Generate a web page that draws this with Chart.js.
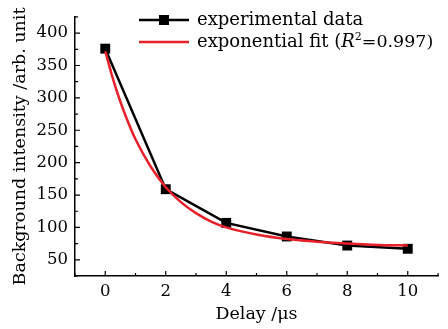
<!DOCTYPE html>
<html>
<head>
<meta charset="utf-8">
<script src="https://cdn.jsdelivr.net/npm/chart.js@4"></script>
<style>
  body { margin: 0; background: #fff; }
</style>
</head>
<body>
<canvas id="decay" width="448" height="329"></canvas>
<script>
// measured points
const delays = [0, 2, 4, 6, 8, 10];
const intensity = [376, 159, 107, 86, 72, 67];

// fit curve
const fitDelays = [0, 0.25, 0.5, 0.75, 1, 1.5, 2, 2.5, 3, 3.5, 4, 5, 6, 7, 8, 9, 10];
const fitIntensity = [372, 330, 294, 263, 236, 194, 162, 139, 122, 109, 100, 89, 82, 78, 75, 73, 72];

const xMajor = [0, 2, 4, 6, 8, 10];
const xMinor = [-1, 1, 3, 5, 7, 9, 11];
const yMajor = [50, 100, 150, 200, 250, 300, 350, 400];
const yMinor = [25, 75, 125, 175, 225, 275, 325, 375, 425];

const seriesNames = ["experimental data", "exponential fit"];
const r2 = "0.997";

const serif = "\"DejaVu Serif\", serif";
const black = "#000000";
const red = "#e8202a";

// ticks point into the plot, as in Origin
const inwardTicks = {
  id: "inwardTicks",
  afterDraw(chart) {
    const ctx = chart.ctx;
    const xs = chart.scales.x, ys = chart.scales.y;
    const area = chart.chartArea;
    ctx.save();
    ctx.strokeStyle = black;
    ctx.lineWidth = 1.2;
    ctx.beginPath();
    xMajor.forEach(v => { const p = xs.getPixelForValue(v); ctx.moveTo(p, area.bottom); ctx.lineTo(p, area.bottom - 5); });
    xMinor.forEach(v => { const p = xs.getPixelForValue(v); ctx.moveTo(p, area.bottom); ctx.lineTo(p, area.bottom - 3); });
    yMajor.forEach(v => { const p = ys.getPixelForValue(v); ctx.moveTo(area.left, p); ctx.lineTo(area.left + 5, p); });
    yMinor.forEach(v => { const p = ys.getPixelForValue(v); ctx.moveTo(area.left, p); ctx.lineTo(area.left + 3, p); });
    ctx.stroke();
    ctx.restore();
  }
};

const insideLegend = {
  id: "insideLegend",
  afterDraw(chart) {
    const ctx = chart.ctx;
    const x0 = 139, x1 = 189, tx = 197;
    const rows = [20, 42];
    ctx.save();
    ctx.textBaseline = "middle";
    ctx.fillStyle = black;

    // row 1: line + square
    ctx.strokeStyle = black;
    ctx.lineWidth = 2.5;
    ctx.beginPath();
    ctx.moveTo(x0, rows[0]); ctx.lineTo(x1, rows[0]);
    ctx.stroke();
    ctx.fillRect((x0 + x1) / 2 - 5, rows[0] - 5, 10, 10);
    ctx.font = "18px " + serif;
    ctx.fillText(seriesNames[0], tx, rows[0]);

    // row 2: red line
    ctx.strokeStyle = red;
    ctx.beginPath();
    ctx.moveTo(x0, rows[1]); ctx.lineTo(x1, rows[1]);
    ctx.stroke();
    let x = tx;
    const part = (txt, font, dy) => {
      ctx.font = font;
      ctx.fillText(txt, x, rows[1] + dy);
      x += ctx.measureText(txt).width;
    };
    part(seriesNames[1] + " (", "18px " + serif, 0);
    part("R", "italic 18px " + serif, 0);
    part("2", "11px " + serif, -5);
    part("=" + r2 + ")", "17.5px " + serif, 0);
    ctx.restore();
  }
};

new Chart(document.getElementById("decay"), {
  type: "line",
  data: {
    datasets: [
      {
        label: seriesNames[1],
        data: fitDelays.map((d, i) => ({ x: d, y: fitIntensity[i] })),
        borderColor: red,
        borderWidth: 2.5,
        pointRadius: 0,
        cubicInterpolationMode: "monotone",
        order: 0
      },
      {
        label: seriesNames[0],
        data: delays.map((d, i) => ({ x: d, y: intensity[i] })),
        borderColor: black,
        backgroundColor: black,
        borderWidth: 2.5,
        pointStyle: "rect",
        pointRadius: 7,
        pointBorderWidth: 0,
        order: 1
      }
    ]
  },
  options: {
    responsive: false,
    animation: false,
    layout: { padding: { top: 7, right: 10, left: 0, bottom: 0 } },
    plugins: {
      legend: { display: false },
      tooltip: { enabled: false }
    },
    scales: {
      x: {
        type: "linear",
        min: -1,
        max: 11,
        afterBuildTicks: s => { s.ticks = xMajor.map(v => ({ value: v })); },
        afterFit: s => { s.height = 53; },
        grid: { display: true, drawOnChartArea: false, drawTicks: false },
        border: { display: true, color: black, width: 1.5 },
        ticks: { color: black, padding: 6, font: { family: serif, size: 16.5 } },
        title: {
          display: true,
          text: "Delay /μs",
          color: black,
          font: { family: serif, size: 17.5 },
          padding: { top: 0, bottom: 4 }
        }
      },
      y: {
        min: 25,
        max: 425,
        afterBuildTicks: s => { s.ticks = yMajor.map(v => ({ value: v })); },
        afterFit: s => { s.width = 75; },
        grid: { display: true, drawOnChartArea: false, drawTicks: false },
        border: { display: true, color: black, width: 1.5 },
        ticks: { color: black, padding: 7, font: { family: serif, size: 16.5 } },
        title: {
          display: true,
          text: "Background intensity /arb. unit",
          color: black,
          font: { family: serif, size: 17.5 },
          padding: { top: 10, bottom: 0 }
        }
      }
    }
  },
  plugins: [inwardTicks, insideLegend]
});
</script>
</body>
</html>
